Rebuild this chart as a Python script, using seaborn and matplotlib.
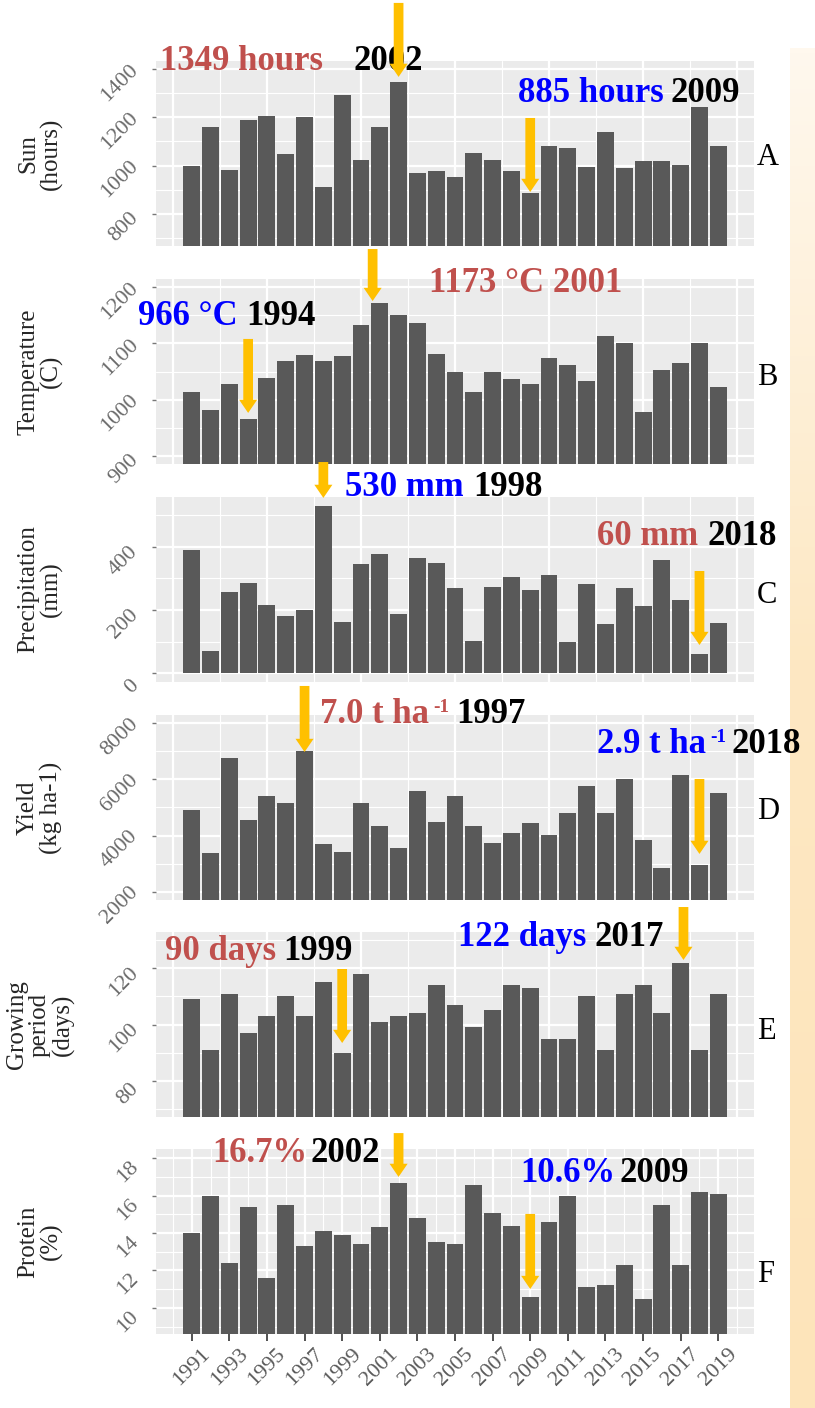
import numpy as np
import pandas as pd
import matplotlib
matplotlib.use("Agg")
import matplotlib.pyplot as plt
import matplotlib.transforms as mtrans
import seaborn as sns

years = list(range(1991, 2020))
sun = [1000, 1162, 982, 1189, 1207, 1048, 1201, 909, 1292, 1025, 1159, 1349, 969, 979, 953,
       1053, 1023, 976, 885, 1080, 1074, 992, 1138, 989, 1020, 1020, 1004, 1242, 1083]
temperature = [1014, 982, 1028, 966, 1039, 1068, 1079, 1068, 1078, 1133, 1173, 1150, 1136, 1082, 1050,
               1013, 1050, 1037, 1027, 1074, 1061, 1033, 1113, 1100, 977, 1053, 1065, 1100, 1022]
precipitation = [389, 70, 256, 284, 216, 180, 199, 530, 161, 344, 376, 188, 365, 350, 271,
                 103, 273, 304, 262, 311, 100, 281, 155, 270, 214, 357, 231, 60, 159]
grain_yield = [4904, 3368, 6760, 4571, 5428, 5178, 7000, 3689, 3416, 5166, 4332, 3557, 5571, 4475, 5428,
               4345, 3725, 4093, 4450, 4021, 4796, 5761, 4821, 6000, 3857, 2843, 6143, 2950, 5535]
growing = [109, 91, 111, 97, 103, 110, 103, 115, 90, 118, 101, 103, 104, 114, 107,
           99, 105, 114, 113, 95, 95, 110, 91, 111, 114, 104, 122, 91, 111]
protein = [14.0, 16.0, 12.4, 15.4, 11.6, 15.5, 13.3, 14.1, 13.9, 13.4, 14.3, 16.7, 14.8, 13.5, 13.4,
           16.6, 15.1, 14.4, 10.6, 14.6, 16.0, 11.1, 11.2, 12.3, 10.45, 15.5, 12.3, 16.2, 16.1]

ylabels = ["Sun\n(hours)", "Temperature\n(C)", "Precipitation\n(mm)", "Yield\n(kg ha-1)",
           "Growing\nperiod\n(days)", "Protein\n(%)"]
letters = ["A", "B", "C", "D", "E", "F"]
xtick_years = list(range(1991, 2020, 2))

RED = "#C0504D"
BLUE = "#0000FF"
ORANGE = "#FFC000"

sns.set_theme(style="darkgrid", rc={
    "axes.facecolor": "#EBEBEB",
    "grid.color": "white",
    "axes.edgecolor": "none",
})
plt.rcParams["font.family"] = ["Liberation Serif", "DejaVu Serif"]

W, H = 815, 1408
fig = plt.figure(figsize=(W / 100, H / 100), dpi=100)

# beige strip on the right
sax = fig.add_axes([790 / W, 0, 25 / W, (H - 48) / H])
stops = np.array([[255, 248, 238], [253, 232, 195], [253, 228, 186]]) / 255
pos = np.linspace(0, 1, 300)
grad = np.stack([np.interp(pos, [0, 0.45, 1], stops[:, c]) for c in range(3)], axis=1)
sax.imshow(grad[:, None, :], aspect="auto")
sax.axis("off")

tops = [61, 279, 497, 715, 932, 1149]
ph = 185

panels = [
    (sun, (665, 1435), [800, 1000, 1200, 1400], [700, 900, 1100, 1300]),
    (temperature, (885, 1215), [900, 1000, 1100, 1200], [950, 1050, 1150]),
    (precipitation, (-27, 557), [0, 200, 400], [100, 300, 500]),
    (grain_yield, (1700, 8300), [2000, 4000, 6000, 8000], [3000, 5000, 7000]),
    (growing, (67, 133), [80, 100, 120], [70, 90, 110, 130]),
    (protein, (8.6, 18.5), [10, 12, 14, 16, 18], [9, 11, 13, 15, 17]),
]

# annotation texts: (x year, y axes fraction, [(text, colour, kind, gap in points)])
notes = [
    [(1989.3, 1.0, [("1349 hours", RED, "n", 0), ("2002", "black", "n", 22)]),
     (2008.35, 0.822, [("885 hours", BLUE, "n", 0), ("2009", "black", "n", 5)])],
    [(2003.6, 0.978, [("1173 °C 2001", RED, "n", 0)]),
     (1988.15, 0.795, [("966 °C", BLUE, "n", 0), ("1994", "black", "n", 6)])],
    [(1999.15, 1.049, [("530 mm", BLUE, "n", 0), ("1998", "black", "n", 7)]),
     (2012.55, 0.784, [("60 mm", RED, "n", 0), ("2018", "black", "n", 7)])],
    [(1997.82, 1.005, [("7.0 t ha", RED, "n", 0), ("-1", RED, "sup", 3), ("1997", "black", "n", 5)]),
     (2012.55, 0.843, [("2.9 t ha", BLUE, "n", 0), ("-1", BLUE, "sup", 3), ("2018", "black", "n", 4)])],
    [(1989.6, 0.892, [("90 days", RED, "n", 0), ("1999", "black", "n", 5)]),
     (2005.15, 0.968, [("122 days", BLUE, "n", 0), ("2017", "black", "n", 6)])],
    [(1992.1, 0.978, [("16.7%", RED, "n", 0), ("2002", "black", "n", 2)]),
     (2008.45, 0.870, [("10.6%", BLUE, "n", 0), ("2009", "black", "n", 3)])],
]
# arrows: (x year, tail fraction, tip fraction)
arrows = [
    [(2002, 1.314, 0.914), (2009, 0.692, 0.292)],
    [(2000.62, 1.162, 0.881), (1994, 0.676, 0.276)],
    [(1998, 1.189, 0.995), (2018, 0.60, 0.20)],
    [(1997, 1.157, 0.80), (2018, 0.654, 0.249)],
    [(1999, 0.80, 0.40), (2017.15, 1.135, 0.849)],
    [(2002, 1.086, 0.849), (2009, 0.649, 0.243)],
]
letter_y = [0.476, 0.47, 0.47, 0.48, 0.46, 0.324]

NOTE_SIZE = 25


def add_note(ax, x, yf, pieces):
    tr = mtrans.blended_transform_factory(ax.transData, ax.transAxes)
    base = prev = None
    for text, color, kind, gap in pieces:
        kw = dict(color=color, fontweight="bold", annotation_clip=False, ha="left")
        if base is None:
            t = ax.annotate(text, xy=(x, yf), xycoords=tr, va="center", fontsize=NOTE_SIZE, **kw)
            base = t
        elif kind == "sup":
            t = ax.annotate(text, xy=(1, 1), xycoords=prev, xytext=(gap, -1), textcoords="offset points",
                            va="top", fontsize=NOTE_SIZE * 0.55, **kw)
        else:
            t = ax.annotate(text, xy=(1, 0.5), xycoords=(prev, base), xytext=(gap, 0),
                            textcoords="offset points", va="center", fontsize=NOTE_SIZE, **kw)
        prev = t


def add_arrow(ax, x, y0, y1):
    tr = mtrans.blended_transform_factory(ax.transData, ax.transAxes)
    ax.annotate("", xy=(x, y1), xytext=(x, y0), xycoords=tr, textcoords=tr, annotation_clip=False,
                arrowprops=dict(arrowstyle="simple,head_length=0.95,head_width=1.3,tail_width=0.7",
                                fc=ORANGE, ec=ORANGE, lw=0, mutation_scale=10, shrinkA=0, shrinkB=0),
                zorder=5)


ylab_offset = mtrans.ScaledTranslation(0, -10 / 72, fig.dpi_scale_trans)

for i, (vals, ylim, yt, ymin) in enumerate(panels):
    top = tops[i]
    ax = fig.add_axes([156 / W, 1 - (top + ph) / H, 598 / W, ph / H])
    df = pd.DataFrame({"year": years, "value": vals})
    sns.barplot(data=df, x="year", y="value", native_scale=True, width=0.9,
                color="#595959", errorbar=None, linewidth=0, saturation=1, ax=ax)
    ax.set_xlim(1989.1, 2020.9)
    ax.set_ylim(*ylim)
    ax.set_yticks(yt)
    ax.set_yticks(ymin, minor=True)
    if i < 5:
        ax.set_xticks(range(1990, 2021, 5))
        ax.set_xticks(np.arange(1992.5, 2020, 5), minor=True)
        ax.tick_params(axis="x", which="both", length=0, labelbottom=False)
    else:
        ax.set_xticks(xtick_years)
        ax.set_xticks(range(1990, 2021, 2), minor=True)
        ax.set_xticklabels([str(y) for y in xtick_years], rotation=45, ha="center", va="top",
                           fontsize=16, color="#5a5a5a")
        ax.tick_params(axis="x", which="major", length=5, width=1.2, color="#333333", pad=3,
                       bottom=True)
        ax.tick_params(axis="x", which="minor", length=0)
    ax.set_yticklabels([str(v) for v in yt], rotation=45, fontsize=16, color="#6a6a6a",
                       ha="right", va="center")
    ax.tick_params(axis="y", which="major", length=3, width=1, color="#777777", pad=7, left=True)
    ax.tick_params(axis="y", which="minor", length=0)
    for lab in ax.get_yticklabels():
        lab.set_transform(lab.get_transform() + ylab_offset)
    ax.grid(which="major", color="white", linewidth=1.6)
    ax.grid(which="minor", color="white", linewidth=0.8)
    ax.set_axisbelow(True)
    ax.set_xlabel("")
    ax.set_ylabel("")

    fig.text(40 / W, 1 - (top + ph / 2) / H, ylabels[i], rotation=90, ha="center", va="center",
             multialignment="center", fontsize=18, linespacing=1.05)
    ax.text(1.005, letter_y[i], letters[i], transform=ax.transAxes, fontsize=22, va="center",
            ha="left", color="black")

    for x, yf, pieces in notes[i]:
        add_note(ax, x, yf, pieces)
    for x, y0, y1 in arrows[i]:
        add_arrow(ax, x, y0, y1)

fig.savefig("out.png", dpi=100)
